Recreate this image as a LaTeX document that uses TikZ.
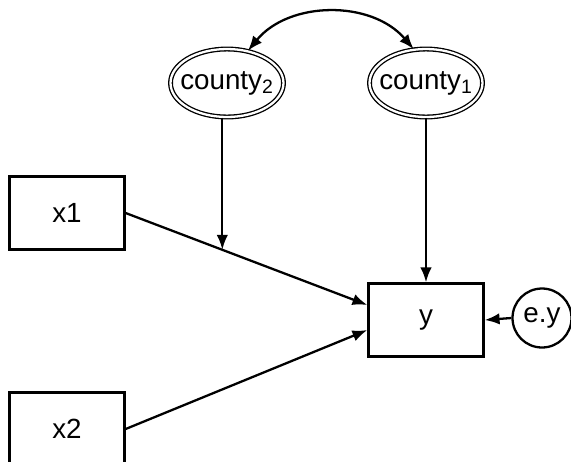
\documentclass[tikz,border=0pt]{standalone}
\usepackage{fontspec}
\setmainfont{Liberation Sans}
\usetikzlibrary{shapes.geometric,arrows.meta}
\begin{document}
\begin{tikzpicture}[>={Latex[length=8.5pt,width=6.5pt]}, x=0.02cm, y=-0.02cm, line width=1.3pt,
  font=\fontsize{15.8}{18}\selectfont,
  obs/.style={draw, rectangle, minimum width=2.3cm, minimum height=1.46cm},
  lat/.style={draw, ellipse, double, line width=0.75pt, double distance=1.3pt,
    inner xsep=-6pt, inner ysep=0pt, minimum width=2.26cm, minimum height=1.36cm},
  err/.style={draw, circle, inner sep=0pt, minimum size=1.18cm}]
\useasboundingbox (0,0) rectangle (571,461);

\node(C2)[lat] at (227,83) {county\textsubscript{2}};
\node(C1)[lat] at (426,83) {county\textsubscript{1}};

\node(X1)[obs] at (67,213) {x1};
\node(X2)[obs] at (67,429) {x2};
\node(Y)[obs] at (426,320) {y};
\node(EY)[err] at (542,318) {e.y};

\coordinate(Yin1) at ([yshift=0.3cm]Y.west);
\coordinate(Yin2) at ([yshift=-0.2cm]Y.west);

\draw[<->] (C2.57) to[bend left=50] (C1.110);
\draw[->] (X1.east) -- coordinate[pos=0.4] (Mid) (Yin1);
\draw[->] (X2.east) -- (Yin2);
\draw[->] (C2.south -| Mid) -- (Mid);
\draw[->] (C1.south) -- (Y.north);
\draw[->] (EY.west) -- (Y.east);
\end{tikzpicture}
\end{document}
